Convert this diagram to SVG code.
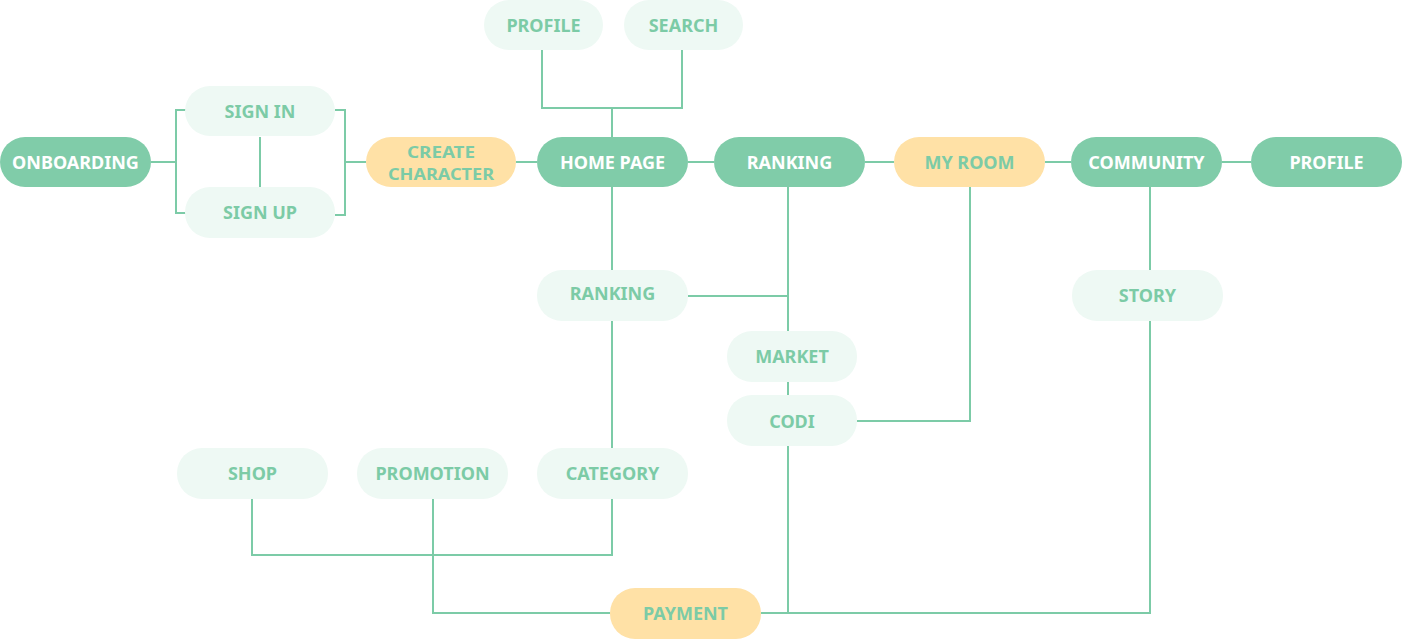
<svg xmlns="http://www.w3.org/2000/svg" width="1402" height="639" viewBox="0 0 1402 639">
<style>
.dk{fill:#80CCA9}
.lt{fill:#EEF9F4}
.yl{fill:#FFE1A6}
text{font-family:"Noto Sans","Liberation Sans",sans-serif;font-weight:700;font-size:18px;text-anchor:middle}
.w{fill:#FFFFFF}
.g{fill:#7CCBA6}
.sm{font-size:16.5px}
#connectors path{fill:none;stroke:#7CCBA7;stroke-width:2}
</style>
<rect width="1402" height="639" fill="#FFFFFF"/>
<g id="connectors">
<path d="M151 162H176M186 110H176V213H186"/>
<path d="M335 110H345V215H335M345 162H366"/>
<path d="M260 137V187"/>
<path d="M516 162H537M688 162H714M865 162H894M1045 162H1071M1222 162H1251"/>
<path d="M542 50V108H682V50M612 108V137"/>
<path d="M612 187V270M612 321V448"/>
<path d="M688 296H788"/>
<path d="M788 187V331M788 382V395M788 446V613"/>
<path d="M857 421H970V187"/>
<path d="M1150 187V270M1150 320V613H761"/>
<path d="M252 498V555H612V498"/>
<path d="M433 498V613H610"/>
</g>
<g id="onboarding"><rect class="dk" x="0" y="137" width="151" height="50" rx="25"/><text class="w" x="75.5" y="168.5">ONBOARDING</text></g>
<g id="sign-in"><rect class="lt" x="185" y="86" width="150" height="50" rx="25"/><text class="g" x="260" y="117.5">SIGN IN</text></g>
<g id="sign-up"><rect class="lt" x="185" y="187" width="150" height="51" rx="25"/><text class="g" x="260" y="218.5">SIGN UP</text></g>
<g id="create-character"><rect class="yl" x="366" y="137" width="150" height="50" rx="25"/><text class="g sm" x="441" y="157.5" textLength="68" lengthAdjust="spacingAndGlyphs">CREATE</text><text class="g sm" x="441" y="180" textLength="106" lengthAdjust="spacingAndGlyphs">CHARACTER</text></g>
<g id="home-page"><rect class="dk" x="537" y="137" width="151" height="50" rx="25"/><text class="w" x="612.5" y="168.5">HOME PAGE</text></g>
<g id="ranking"><rect class="dk" x="714" y="137" width="151" height="50" rx="25"/><text class="w" x="789.5" y="168.5">RANKING</text></g>
<g id="my-room"><rect class="yl" x="894" y="137" width="151" height="50" rx="25"/><text class="g" x="969.5" y="168.5">MY ROOM</text></g>
<g id="community"><rect class="dk" x="1071" y="137" width="151" height="50" rx="25"/><text class="w" x="1146.5" y="168.5">COMMUNITY</text></g>
<g id="profile-right"><rect class="dk" x="1251" y="137" width="151" height="50" rx="25"/><text class="w" x="1326.5" y="168.5">PROFILE</text></g>
<g id="profile-top"><rect class="lt" x="484" y="0" width="119" height="50" rx="25"/><text class="g" x="543.5" y="31.5">PROFILE</text></g>
<g id="search"><rect class="lt" x="624" y="0" width="119" height="50" rx="25"/><text class="g" x="683.5" y="31.5">SEARCH</text></g>
<g id="ranking-sub"><rect class="lt" x="537" y="270" width="151" height="51" rx="25"/><text class="g" x="612.5" y="299.5">RANKING</text></g>
<g id="market"><rect class="lt" x="727" y="331" width="130" height="51" rx="25"/><text class="g" x="792" y="362.5">MARKET</text></g>
<g id="codi"><rect class="lt" x="727" y="395" width="130" height="51" rx="25"/><text class="g" x="792" y="427.5">CODI</text></g>
<g id="story"><rect class="lt" x="1072" y="270" width="151" height="51" rx="25"/><text class="g" x="1147.5" y="301.5">STORY</text></g>
<g id="shop"><rect class="lt" x="177" y="448" width="151" height="51" rx="25"/><text class="g" x="252.5" y="479.5">SHOP</text></g>
<g id="promotion"><rect class="lt" x="357" y="448" width="151" height="51" rx="25"/><text class="g" x="432.5" y="479.5">PROMOTION</text></g>
<g id="category"><rect class="lt" x="537" y="448" width="151" height="51" rx="25"/><text class="g" x="612.5" y="479.5">CATEGORY</text></g>
<g id="payment"><rect class="yl" x="610" y="588" width="151" height="51" rx="25"/><text class="g" x="685.5" y="619.5">PAYMENT</text></g>
</svg>
